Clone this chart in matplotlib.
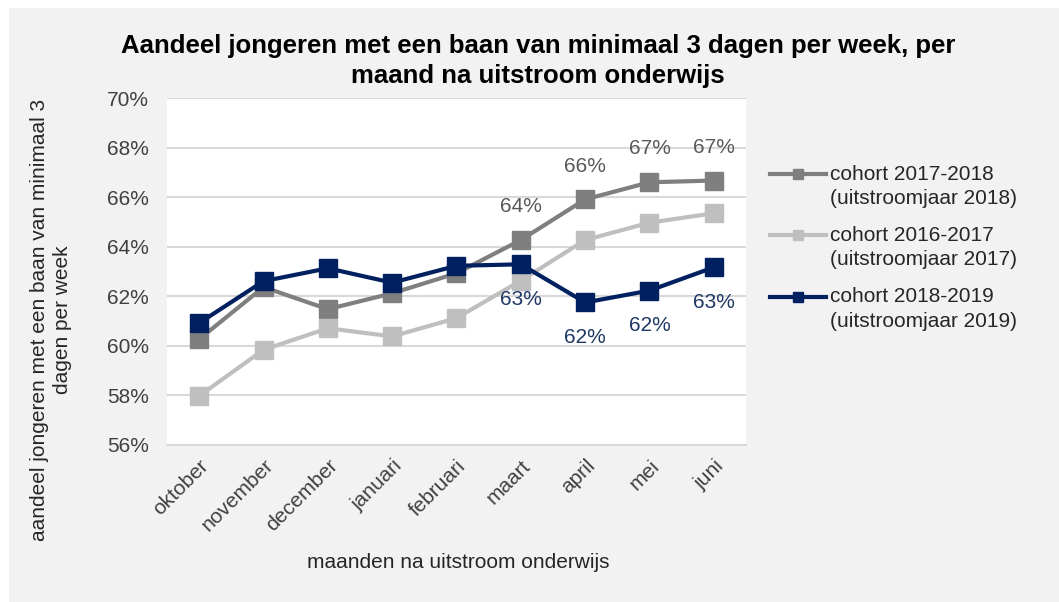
import matplotlib.pyplot as plt
from matplotlib.patches import Rectangle
from matplotlib.transforms import ScaledTranslation
from matplotlib.ticker import FuncFormatter

plt.rcParams['font.family'] = ['Liberation Sans', 'DejaVu Sans']

# data
maanden = ['oktober', 'november', 'december', 'januari', 'februari',
           'maart', 'april', 'mei', 'juni']
cohort_2017_2018 = [60.27, 62.37, 61.48, 62.12, 62.93, 64.27, 65.91, 66.60, 66.67]
cohort_2016_2017 = [57.98, 59.84, 60.71, 60.38, 61.12, 62.63, 64.27, 64.97, 65.35]
cohort_2018_2019 = [60.92, 62.61, 63.13, 62.55, 63.23, 63.29, 61.75, 62.23, 63.17]
labels = ['cohort 2017-2018\n(uitstroomjaar 2018)',
          'cohort 2016-2017\n(uitstroomjaar 2017)',
          'cohort 2018-2019\n(uitstroomjaar 2019)']

fig = plt.figure(figsize=(10.59, 6.02), dpi=100)
fig.patch.set_facecolor('white')
fig.add_artist(Rectangle((9 / 1059, 0), 1, 594 / 602, transform=fig.transFigure,
                         facecolor='#F2F2F2', edgecolor='none', zorder=-10))

ax = fig.add_axes([167 / 1059, 1 - 445 / 602, 579 / 1059, 347 / 602])
ax.set_facecolor('white')

x = range(len(maanden))
ax.plot(x, cohort_2017_2018, color='#7F7F7F', lw=3, marker='s', ms=13.5, label=labels[0])
ax.plot(x, cohort_2016_2017, color='#BFBFBF', lw=3, marker='s', ms=13.5, label=labels[1])
ax.plot(x, cohort_2018_2019, color='#002060', lw=3, marker='s', ms=13.5, label=labels[2])

# data labels for the last months
for i in range(5, 9):
    v = cohort_2017_2018[i]
    ax.annotate(f'{round(v)}%', (i, v), xytext=(0, 24), textcoords='offset points',
                ha='center', va='center', fontsize=15, color='#595959')
    v = cohort_2018_2019[i]
    ax.annotate(f'{round(v)}%', (i, v), xytext=(0, -25), textcoords='offset points',
                ha='center', va='center', fontsize=15, color='#1F3864')

ax.set_xlim(-0.5, 8.5)
ax.set_ylim(56, 70)
ax.set_yticks(range(56, 71, 2))
ax.yaxis.set_major_formatter(FuncFormatter(lambda v, p: f'{v:.0f}%'))
ax.set_xticks(list(x))
ax.set_xticklabels(maanden, rotation=45, ha='right', rotation_mode='anchor')
ax.tick_params(length=0, labelsize=15, colors='#404040')
ax.tick_params(axis='y', pad=13)
ax.tick_params(axis='x', pad=8)
ax.grid(axis='y', color='#D9D9D9', lw=1.5)
ax.set_axisbelow(True)
for s in ['top', 'right', 'left']:
    ax.spines[s].set_visible(False)
ax.spines['bottom'].set_color('#D9D9D9')
ax.spines['bottom'].set_linewidth(1.5)

fig.text(458 / 1059, 1 - 563 / 602, 'maanden na uitstroom onderwijs',
         ha='center', va='center', fontsize=15, color='#262626')
fig.text(51 / 1059, 1 - 320 / 602,
         'aandeel jongeren met een baan van minimaal 3\ndagen per week',
         rotation=90, ha='center', va='center', multialignment='center',
         fontsize=15, color='#262626', linespacing=1.3)
fig.text(538 / 1059, 1 - 61 / 602,
         'Aandeel jongeren met een baan van minimaal 3 dagen per week, per\nmaand na uitstroom onderwijs',
         ha='center', va='center', fontsize=18.5, fontweight='bold', linespacing=1.3)

leg = ax.legend(loc='center left', bbox_to_anchor=(770 / 1059, 1 - 235 / 602),
                bbox_transform=fig.transFigure, frameon=False, fontsize=15,
                handlelength=2.7, handletextpad=0.2, labelspacing=0.87,
                borderpad=0, borderaxespad=0, markerscale=0.5)
# put the legend line next to the first text line
for t in leg.get_texts():
    t.set_color('#262626')
    t.set_linespacing(1.35)
    t.set_transform(t.get_transform() + ScaledTranslation(0, -9 / 72, fig.dpi_scale_trans))

fig.savefig('out.png', dpi=100)
